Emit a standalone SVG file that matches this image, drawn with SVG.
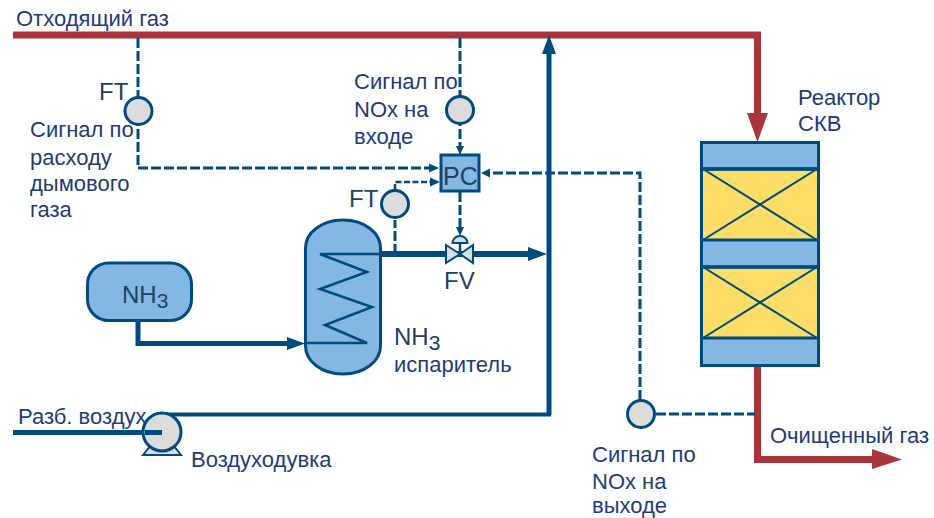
<svg xmlns="http://www.w3.org/2000/svg" width="934" height="518" viewBox="0 0 934 518">
<style>
text{font-family:"Liberation Sans",Arial,sans-serif;font-size:22px;fill:#1f3a7a}
.k{fill:#23405f}
.l{font-size:24px}
.d{fill:none;stroke:#004b7d;stroke-width:3;stroke-dasharray:10 3}
.p{fill:none;stroke:#004b7d;stroke-width:5}
.r{fill:none;stroke:#a93439;stroke-width:7}
.s{fill:#dcdcdc;stroke:#004b7d;stroke-width:3}
.b{fill:#85b7e3;stroke:#004b7d;stroke-width:3}
.y{fill:#fbdd68;stroke:#004b7d;stroke-width:3}
.t{fill:none;stroke:#004b7d;stroke-width:2.500}
.a{fill:#004b7d}
.ar{fill:#a93439}
</style>
<g id="connectors">
<path class="r" d="M13 35H757.500V115"/>
<polygon class="ar" points="747,113 768,113 757.500,142"/>
<path class="r" d="M757.500 366V459.500H875"/>
<polygon class="ar" points="872,449 902,459.500 872,469"/>
<path class="p" d="M549 415V50" style="stroke-width:5"/>
<polygon class="a" points="549,35 556,54 542,54"/>
<path class="p" d="M162 414.500H551" style="stroke-width:4"/>
<path class="p" d="M13 432.500H162"/>
<path class="p" d="M138 320V343.500H290"/>
<polygon class="a" points="287,337 305,343.500 287,350"/>
<path class="p" d="M381 254H530" style="stroke-width:6"/>
<polygon class="a" points="528,247 547,254 528,261"/>
<path class="d" d="M138 38V168H431"/>
<polygon class="a" points="429,163.500 439,168 429,172.500"/>
<path class="d" d="M460 38V148"/>
<polygon class="a" points="456,146 464,146 460,155"/>
<path class="d" d="M395 254V220"/>
<path class="d" d="M395 190V182H431" style="stroke-width:2.500;stroke-dasharray:6 2.500"/>
<polygon class="a" points="430,177.500 440,182 430,186.500"/>
<path class="d" d="M460 192V229"/>
<polygon class="a" points="456,227 464,227 460,236"/>
<path class="d" d="M640 400V173H488"/>
<polygon class="a" points="490,168.500 481,173 490,177.500"/>
<path class="d" d="M656 414H755"/>
</g>
<g id="ft-flow"><circle class="s" cx="138.500" cy="111" r="13.500"/><text class="k l" x="99" y="100">FT</text></g>
<g id="ft-nh3"><circle class="s" cx="395" cy="204" r="13.500"/><text class="k l" x="349" y="207">FT</text></g>
<g id="ae-in"><circle class="s" cx="460" cy="110" r="13.500"/></g>
<g id="ae-out"><circle class="s" cx="641" cy="414" r="13.500"/></g>
<g id="pc"><rect class="b" x="441" y="155" width="38" height="36"/><text class="k" x="443" y="185" style="font-size:25px">PC</text></g>
<g id="fv">
<polygon class="s" points="446,245 460,254 446,263" style="stroke-width:2"/>
<polygon class="s" points="473,245 460,254 473,263" style="stroke-width:2"/>
<path d="M452.500 243A7.500 7 0 0 1 467.500 243Z" class="s" style="stroke-width:2"/>
<path class="t" d="M460 243V254"/>
<text class="k l" x="444" y="289">FV</text>
</g>
<g id="evaporator">
<rect class="b" x="305.500" y="220" width="75" height="154" rx="37" ry="28"/>
<path class="t" d="M320 254H381M320 254L367 272L320 289L372 307L325 325L367 343H305" style="stroke-linejoin:miter"/>
<text class="k" x="394" y="345" style="font-size:24px">NH<tspan dy="5" style="font-size:21px">3</tspan></text>
<text x="394" y="372">испаритель</text>
</g>
<g id="nh3-tank">
<rect class="b" x="87.500" y="263" width="104" height="57.500" rx="21" ry="21"/>
<text class="k" x="122" y="303" style="font-size:24px">NH<tspan dy="5" style="font-size:21px">3</tspan></text>
</g>
<g id="blower">
<polygon class="s" points="143,455 151,445 173,445 181,455" style="stroke-width:2"/>
<circle class="s" cx="162" cy="432" r="19"/>
<path class="p" d="M145 432.500H162"/>
<text x="191" y="467">Воздуходувка</text>
</g>
<g id="reactor">
<rect class="b" x="701.500" y="142.500" width="117" height="223"/>
<rect class="y" x="701.500" y="169" width="117" height="71"/>
<rect class="y" x="701.500" y="267" width="117" height="71"/>
<path class="t" d="M703 169L817 240M817 169L703 240M703 267L817 338M817 267L703 338" style="stroke-width:2"/>
<path class="p" d="M701 169H819M701 267H819" style="stroke-width:3.500"/>
<text x="798" y="105">Реактор</text>
<text x="798" y="131">СКВ</text>
</g>
<g id="labels">
<text x="16" y="26">Отходящий газ</text>
<text x="30" y="137">Сигнал по</text>
<text x="30" y="165">расходу</text>
<text x="30" y="191">дымового</text>
<text x="30" y="217">газа</text>
<text x="354" y="89">Сигнал по</text>
<text x="354" y="117">NOx на</text>
<text x="354" y="144">входе</text>
<text x="18" y="424">Разб. воздух</text>
<text x="770" y="443">Очищенный газ</text>
<text x="592" y="462">Сигнал по</text>
<text x="592" y="489">NOx на</text>
<text x="592" y="513">выходе</text>
</g>
</svg>
